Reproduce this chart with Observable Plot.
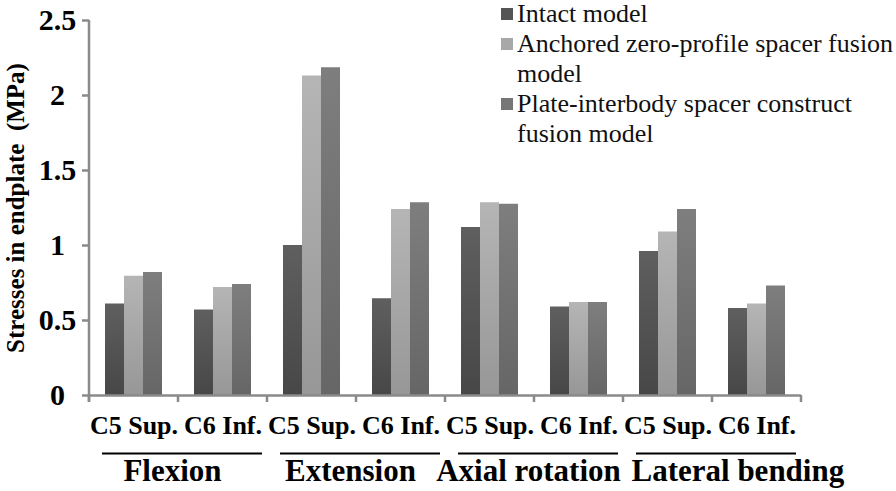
<!DOCTYPE html>
<html>
<head>
<meta charset="utf-8">
<script src="https://cdn.jsdelivr.net/npm/d3@7"></script>
<script src="https://cdn.jsdelivr.net/npm/@observablehq/plot@0.6"></script>
<style>
  html, body { margin: 0; padding: 0; background: white; }
  #wrap { position: relative; width: 896px; height: 491px; }
</style>
</head>
<body>
<div id="wrap">
  <div id="chart"></div>
</div>
<script>
// ---- data ----
const movements = ["Flexion", "Extension", "Axial rotation", "Lateral bending"];
const endplates = ["C5 Sup.", "C6 Inf."];
const seriesNames = [
  "Intact model",
  "Anchored zero-profile spacer fusion model",
  "Plate-interbody spacer construct fusion model"
];
const legendLines = [
  ["Intact model"],
  ["Anchored zero-profile spacer fusion", "model"],
  ["Plate-interbody spacer construct", "fusion model"]
];
// values per position: Flex C5, Flex C6, Ext C5, Ext C6, Axial C5, Axial C6, Lat C5, Lat C6
const intactValues   = [0.61, 0.57, 1.00, 0.645, 1.12, 0.59, 0.96, 0.58];
const anchoredValues = [0.795, 0.72, 2.13, 1.24, 1.285, 0.62, 1.09, 0.61];
const plateValues    = [0.82, 0.74, 2.185, 1.285, 1.275, 0.62, 1.24, 0.73];
const yTicks = [0, 0.5, 1, 1.5, 2, 2.5];
const yLabel = "Stresses in endplate  (MPa)";

// ---- build table ----
const keys = movements.flatMap(m => endplates.map(e => m + "|" + e));
const seriesValues = [intactValues, anchoredValues, plateValues];
const data = keys.flatMap((k, i) => seriesValues.map((arr, j) => ({key: k, series: seriesNames[j], value: arr[i]})));

const gradIds = ["gIntact", "gAnchored", "gPlate"];
const gradStops = [["#5f5f5f", "#474747"], ["#b5b5b5", "#979797"], ["#7e7e7e", "#666666"]];
const swatchColors = ["#555555", "#a8a8a8", "#767676"];

const axisGray = "#8a8a8a";
const serif = "'Liberation Serif', 'Times New Roman', serif";

const plot = Plot.plot({
  width: 896,
  height: 491,
  marginLeft: 87,
  marginRight: 93,
  marginTop: 20,
  marginBottom: 96,
  style: {fontFamily: serif, background: "white", overflow: "visible", color: "black"},
  fx: {domain: keys, paddingInner: 0, paddingOuter: 0, axis: null, label: null},
  x: {domain: seriesNames, paddingInner: 0, paddingOuter: 0.775, axis: null},
  y: {domain: [0, 2.5], axis: null},
  color: {domain: seriesNames, range: gradIds.map(id => `url(#${id})`)},
  marks: [
    Plot.barY(data, {fx: "key", x: "series", y: "value", fill: "series"}),
    Plot.ruleY([0], {stroke: axisGray, strokeWidth: 2.5}),
    Plot.axisY({
      ticks: yTicks, tickFormat: d => String(d), tickSize: 7, tickPadding: 25,
      textAnchor: "middle",
      stroke: axisGray, strokeWidth: 2.5, fill: "black",
      fontSize: 30, fontWeight: "bold",
      label: null
    }),
    Plot.text([yLabel], {
      fx: () => keys[0], frameAnchor: "left", textAnchor: "middle", lineAnchor: "middle",
      rotate: -90, text: d => d,
      dx: -74, fontSize: 25, fontWeight: "bold", fill: "black"
    }),
    Plot.axisFx({
      anchor: "bottom", tickSize: 0, tickPadding: 20,
      tickFormat: d => d.split("|")[1], fontSize: 26, fontWeight: "bold", label: null, fill: "black"
    }),
    Plot.ruleY(movements, {fx: m => m + "|" + endplates[0], y: () => 0, dy: 58, insetLeft: 13, stroke: "black", strokeWidth: 2}),
    Plot.ruleY(movements, {fx: m => m + "|" + endplates[1], y: () => 0, dy: 58, insetRight: 5, stroke: "black", strokeWidth: 2}),
    Plot.text(movements.slice(0, 3), {
      fx: m => m + "|" + endplates[1], frameAnchor: "bottom-left", lineAnchor: "middle", text: d => d,
      textAnchor: "middle", dx: -6, dy: 76, fontSize: 31, fontWeight: "bold", fill: "black"
    }),
    Plot.text(movements.slice(3), {
      fx: m => m + "|" + endplates[0], frameAnchor: "bottom-left", lineAnchor: "middle", text: d => d,
      textAnchor: "start", dx: 8, dy: 76, fontSize: 31, fontWeight: "bold", fill: "black"
    })
  ]
});

// gradients for bars
const svg = d3.select(plot);
const defs = svg.insert("defs", ":first-child");
gradIds.forEach((id, i) => {
  const g = defs.append("linearGradient").attr("id", id).attr("x1", 0).attr("y1", 0).attr("x2", 0).attr("y2", 1);
  g.append("stop").attr("offset", "0%").attr("stop-color", gradStops[i][0]);
  g.append("stop").attr("offset", "100%").attr("stop-color", gradStops[i][1]);
});

// axis line and boundary ticks, positioned with the fx and y scales
const fxScale = plot.scale("fx");
const yScale = plot.scale("y");
const y0 = yScale.apply(0);
const yTop = yScale.apply(yTicks[yTicks.length - 1]);
const edges = keys.map(k => fxScale.apply(k)).concat([fxScale.apply(keys[keys.length - 1]) + fxScale.bandwidth]);
const axisG = svg.append("g").attr("aria-label", "axis lines");
axisG.append("line")
  .attr("x1", edges[0]).attr("x2", edges[0]).attr("y1", yTop).attr("y2", y0 + 7)
  .attr("stroke", axisGray).attr("stroke-width", 2.5);
axisG.selectAll("line.bt").data(edges).join("line").attr("class", "bt")
  .attr("x1", d => d).attr("x2", d => d)
  .attr("y1", y0).attr("y2", y0 + 7)
  .attr("stroke", axisGray).attr("stroke-width", 2.5);

// legend (SVG, top right)
const lg = svg.append("g").attr("aria-label", "legend")
  .attr("transform", "translate(501,0)")
  .attr("font-family", serif).attr("font-size", 26).attr("fill", "#111")
  .attr("text-anchor", "start");
let line = 0;
legendLines.forEach((lines, i) => {
  lg.append("rect").attr("x", 0).attr("y", line * 30 + 8).attr("width", 12).attr("height", 12)
    .attr("fill", swatchColors[i]);
  const t = lg.append("text").attr("x", 16).attr("y", line * 30 + 22).attr("text-anchor", "start");
  lines.forEach((s, j) => {
    t.append("tspan").attr("x", 16).attr("dy", j === 0 ? 0 : 30).text(s);
  });
  line += lines.length;
});

document.getElementById("chart").appendChild(plot);
</script>
</body>
</html>
